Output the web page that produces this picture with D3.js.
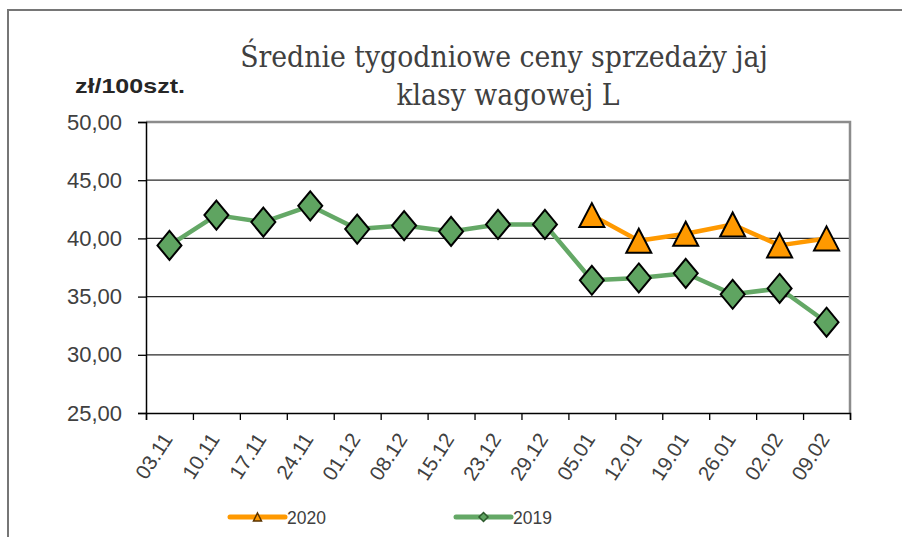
<!DOCTYPE html>
<html>
<head>
<meta charset="utf-8">
<script src="https://cdn.jsdelivr.net/npm/d3@7"></script>
<style>
  html, body { margin: 0; padding: 0; background: #fff; }
  svg { display: block; }
</style>
</head>
<body>
<svg id="chart" width="902" height="537"></svg>
<script>
const categories = ["03.11","10.11","17.11","24.11","01.12","08.12","15.12","23.12","29.12","05.01","12.01","19.01","26.01","02.02","09.02"];
const values2019 = [39.4, 42.0, 41.4, 42.8, 40.8, 41.1, 40.6, 41.2, 41.2, 36.4, 36.6, 37.0, 35.2, 35.7, 32.8];
const categories2020 = ["05.01","12.01","19.01","26.01","02.02","09.02"];
const values2020 = [42.0, 39.8, 40.4, 41.2, 39.4, 40.0];
const yTicks = [25, 30, 35, 40, 45, 50];
const titleLines = ["Średnie tygodniowe ceny sprzedaży jaj", "klasy wagowej L"];
const unitLabel = "zł/100szt.";
const seriesNames = ["2020", "2019"];

const svg = d3.select("#chart");
const W = 902, H = 537;
const plot = {left: 146, right: 850, top: 122, bottom: 413};

const orange = "#ff9900";
const green = "#64a866";
const greenFill = "#5fa461";

// outer frame (top + left)
svg.append("path")
  .attr("d", `M8,${H} L8,10 L${W},10`)
  .attr("fill", "none").attr("stroke", "#767676").attr("stroke-width", 2);

// scales
const x = d3.scaleBand().domain(categories).range([plot.left, plot.right]).padding(0);
const cx = c => x(c) + x.bandwidth() / 2;
const y = d3.scaleLinear().domain([25, 50]).range([plot.bottom, plot.top]);

// gridlines
svg.append("g").selectAll("line").data(yTicks.filter(v => v > 25 && v < 50)).join("line")
  .attr("x1", plot.left).attr("x2", plot.right)
  .attr("y1", d => y(d)).attr("y2", d => y(d))
  .attr("stroke", "#2a2a2a").attr("stroke-width", 1.2);

// plot border top/right (grey)
svg.append("path")
  .attr("d", `M${plot.left},${y(50)} L${plot.right},${y(50)} L${plot.right},${plot.bottom}`)
  .attr("fill", "none").attr("stroke", "#8c8c8c").attr("stroke-width", 2.5);

// y axis
const yAxis = d3.axisLeft(y).tickValues(yTicks).tickSize(8).tickPadding(16)
  .tickFormat(d => d3.format(".2f")(d).replace(".", ","));
const gy = svg.append("g").attr("transform", `translate(${plot.left},0)`).call(yAxis);
gy.select(".domain").attr("stroke", "#000").attr("stroke-width", 1.5);
gy.selectAll(".tick line").attr("stroke", "#000").attr("stroke-width", 1.3);
gy.selectAll(".tick text")
  .attr("font-family", "Arial, 'Liberation Sans', sans-serif")
  .attr("font-size", 22).attr("fill", "#404040");

// x axis: ticks between categories
const xb = d3.scaleLinear().domain([0, categories.length]).range([plot.left, plot.right]);
const xAxis = d3.axisBottom(xb).tickValues(d3.range(0, categories.length + 1)).tickSize(7).tickFormat("");
const gx = svg.append("g").attr("transform", `translate(0,${plot.bottom})`).call(xAxis);
gx.select(".domain").attr("stroke", "#000").attr("stroke-width", 1.5);
gx.selectAll(".tick line").attr("stroke", "#000").attr("stroke-width", 1.3);

// x labels rotated
svg.append("g").selectAll("text").data(categories).join("text")
  .attr("transform", d => `translate(${cx(d) + 4},${plot.bottom + 26}) rotate(-57)`)
  .attr("text-anchor", "end")
  .attr("font-family", "Arial, 'Liberation Sans', sans-serif")
  .attr("font-size", 20.5).attr("fill", "#404040")
  .text(d => d);

// lines
const line = d3.line().x(d => cx(d.c)).y(d => y(d.v));
const d2019 = categories.map((c, i) => ({c, v: values2019[i]}));
const d2020 = categories2020.map((c, i) => ({c, v: values2020[i]}));

svg.append("path").datum(d2019).attr("d", line)
  .attr("fill", "none").attr("stroke", green).attr("stroke-width", 4.5).attr("stroke-linejoin", "round");
svg.append("path").datum(d2020).attr("d", line)
  .attr("fill", "none").attr("stroke", orange).attr("stroke-width", 4.5).attr("stroke-linejoin", "round");

// markers
const diamond = (hw, hh) => `M0,${-hh} L${hw},0 L0,${hh} L${-hw},0 Z`;
const tri = (hw, hh) => `M0,${-hh} L${hw},${hh} L${-hw},${hh} Z`;

svg.append("g").selectAll("path").data(d2019).join("path")
  .attr("transform", d => `translate(${cx(d.c)},${y(d.v)})`)
  .attr("d", diamond(12, 14.5))
  .attr("fill", greenFill).attr("stroke", "#000").attr("stroke-width", 2).attr("stroke-linejoin", "miter");

svg.append("g").selectAll("path").data(d2020).join("path")
  .attr("transform", d => `translate(${cx(d.c)},${y(d.v)})`)
  .attr("d", tri(12.5, 12))
  .attr("fill", orange).attr("stroke", "#000").attr("stroke-width", 2).attr("stroke-linejoin", "miter");

// title (font size fitted so first line spans ~528px like the reference)
const title = svg.append("text")
  .attr("text-anchor", "middle")
  .attr("font-family", "'DejaVu Serif Condensed', 'DejaVu Serif', serif")
  .attr("font-size", 26).attr("fill", "#404040");
const t1 = title.append("tspan").attr("x", 504).attr("y", 67).text(titleLines[0]);
title.append("tspan").attr("x", 508).attr("y", 105).text(titleLines[1]);
const w1 = t1.node().getComputedTextLength();
if (w1 > 0) title.attr("font-size", 26 * 528 / w1);

// unit label
svg.append("text")
  .attr("x", 75).attr("y", 93)
  .attr("font-family", "Arial, 'Liberation Sans', sans-serif")
  .attr("font-weight", "bold").attr("font-size", 21).attr("fill", "#262626")
  .attr("textLength", 110).attr("lengthAdjust", "spacingAndGlyphs")
  .text(unitLabel);

// legend
const legend = [
  {name: seriesNames[0], color: orange, x: 230, marker: tri(4, 4), mfill: orange, mstroke: "#5a3300"},
  {name: seriesNames[1], color: green, x: 456, marker: diamond(4.5, 4.5), mfill: greenFill, mstroke: "#2d5a2d"}
];
const lg = svg.append("g").selectAll("g").data(legend).join("g")
  .attr("transform", d => `translate(${d.x},517)`);
lg.append("line").attr("x1", 0).attr("x2", 55).attr("y1", 0).attr("y2", 0)
  .attr("stroke", d => d.color).attr("stroke-width", 5).attr("stroke-linecap", "round");
lg.append("path").attr("transform", "translate(27.5,0)").attr("d", d => d.marker)
  .attr("fill", d => d.mfill).attr("stroke", d => d.mstroke).attr("stroke-width", 1.5);
lg.append("text").attr("x", 57).attr("y", 7)
  .attr("font-family", "Arial, 'Liberation Sans', sans-serif")
  .attr("font-size", 17.5).attr("fill", "#404040")
  .text(d => d.name);
</script>
</body>
</html>
